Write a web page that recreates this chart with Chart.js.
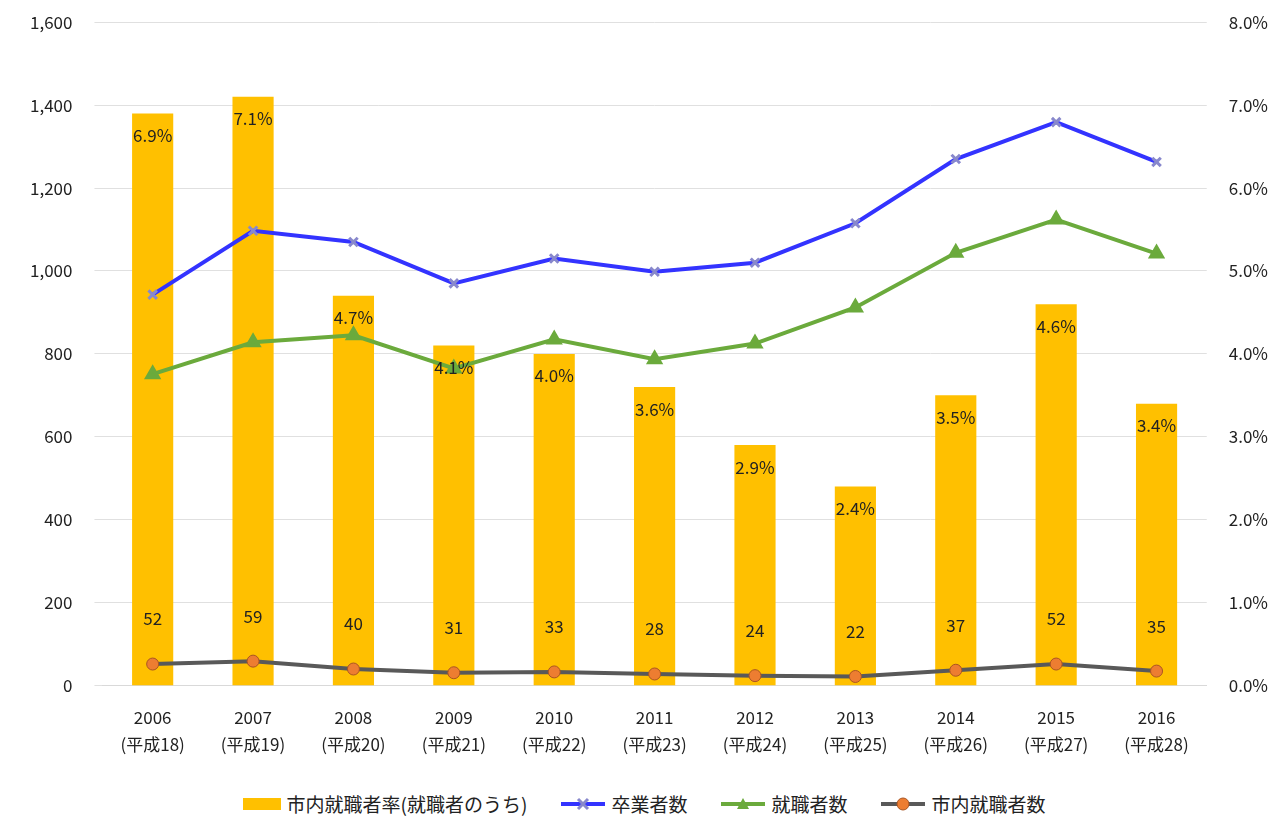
<!DOCTYPE html>
<html>
<head>
<meta charset="utf-8">
<script src="https://cdn.jsdelivr.net/npm/chart.js@4/dist/chart.umd.min.js"></script>
<style>
  html, body { margin: 0; padding: 0; background: #fff; }
  #wrap { position: relative; width: 1288px; height: 778px; margin-top: -10px; }
  #legend { display: flex; justify-content: center; gap: 34px; font: 19px "Noto Sans CJK JP", sans-serif; color: #222; margin-top: 22px; }
  #legend span { display: inline-flex; align-items: center; gap: 6px; }
</style>
</head>
<body>
<div id="wrap"><canvas id="c"></canvas></div>
<div id="legend">
  <span><svg width="38" height="14"><rect x="0" y="1" width="38" height="12" fill="#FFC000"/></svg>市内就職者率(就職者のうち)</span>
  <span><svg width="44" height="14"><line x1="0" y1="7" x2="44" y2="7" stroke="#3333FF" stroke-width="4"/><path d="M17 2 L27 12 M27 2 L17 12" stroke="#8888cc" stroke-width="3"/></svg>卒業者数</span>
  <span><svg width="44" height="14"><line x1="0" y1="7" x2="44" y2="7" stroke="#6BAA3C" stroke-width="4"/><path d="M22 1 L28 12 L16 12 Z" fill="#6BAA3C"/></svg>就職者数</span>
  <span><svg width="44" height="14"><line x1="0" y1="7" x2="44" y2="7" stroke="#595959" stroke-width="4"/><circle cx="22" cy="7" r="6" fill="#ED7D31" stroke="#aa5522"/></svg>市内就職者数</span>
</div>
<script>
  // -- Data ------------------------------------------------------------
  const years = ["2006","2007","2008","2009","2010","2011","2012","2013","2014","2015","2016"];
  const heisei = ["(平成18)","(平成19)","(平成20)","(平成21)","(平成22)","(平成23)","(平成24)","(平成25)","(平成26)","(平成27)","(平成28)"];
  const cityRate = [6.9, 7.1, 4.7, 4.1, 4.0, 3.6, 2.9, 2.4, 3.5, 4.6, 3.4];
  const graduates = [943, 1097, 1070, 970, 1030, 998, 1020, 1115, 1270, 1359, 1263];
  const employed = [751, 828, 845, 765, 835, 787, 825, 912, 1044, 1124, 1042];
  const cityEmployed = [52, 59, 40, 31, 33, 28, 24, 22, 37, 52, 35];

  const FONT = '"Noto Sans CJK JP", "Noto Sans", sans-serif';

  // Value labels: rate inside bar tops, city counts above their points
  const valueLabels = {
    id: "valueLabels",
    afterDatasetsDraw(chart) {
      const ctx = chart.ctx;
      ctx.save();
      ctx.font = "17px " + FONT;
      ctx.fillStyle = "#222";
      ctx.textAlign = "center";
      ctx.textBaseline = "middle";
      chart.getDatasetMeta(0).data.forEach((bar, i) => {
        ctx.fillText(cityRate[i].toFixed(1) + "%", bar.x, bar.y + 22);
      });
      chart.getDatasetMeta(3).data.forEach((pt, i) => {
        ctx.fillText(String(cityEmployed[i]), pt.x, pt.y - 45);
      });
      ctx.restore();
    },
  };

  new Chart(document.getElementById("c"), {
    data: {
      labels: years.map((y, i) => [y, heisei[i]]),
      datasets: [
        {
          type: "bar", label: "市内就職者率(就職者のうち)", data: cityRate, yAxisID: "y1",
          backgroundColor: "#FFC000", barPercentage: 0.41, categoryPercentage: 1, order: 4,
        },
        {
          type: "line", label: "卒業者数", data: graduates, yAxisID: "y",
          borderColor: "#3333FF", borderWidth: 4, pointStyle: "crossRot", pointRadius: 6,
          pointBorderColor: "#8888cc", pointBorderWidth: 3, order: 1,
        },
        {
          type: "line", label: "就職者数", data: employed, yAxisID: "y",
          borderColor: "#6BAA3C", backgroundColor: "#6BAA3C", borderWidth: 4, pointStyle: "triangle",
          pointRadius: 6, order: 2,
        },
        {
          type: "line", label: "市内就職者数", data: cityEmployed, yAxisID: "y",
          borderColor: "#595959", borderWidth: 4, pointRadius: 6,
          pointBackgroundColor: "#ED7D31", pointBorderColor: "#aa5522", pointBorderWidth: 1, order: 3,
        },
      ],
    },
    options: {
      animation: false,
      responsive: true,
      maintainAspectRatio: false,
      layout: { padding: { left: 8, right: 6, top: 0, bottom: 0 } },
      scales: {
        x: {
          grid: { display: false },
          border: { color: "#d9d9d9" },
          ticks: { color: "#222", font: { family: FONT, size: 17, lineHeight: 1.6 }, maxRotation: 0, padding: 10 },
        },
        y: {
          position: "left", min: 0, max: 1600,
          grid: { color: "#e0e0e0" },
          border: { display: false },
          ticks: {
            stepSize: 200, color: "#222", padding: 22, font: { family: FONT, size: 17 },
            callback: (v) => v.toLocaleString("en-US"),
          },
        },
        y1: {
          position: "right", min: 0, max: 8,
          grid: { display: false },
          border: { display: false },
          ticks: {
            stepSize: 1, color: "#222", padding: 14, font: { family: FONT, size: 17 },
            callback: (v) => v.toFixed(1) + "%",
          },
        },
      },
      plugins: { legend: { display: false }, tooltip: { enabled: false } },
    },
    plugins: [valueLabels],
  });
</script>
</body>
</html>
